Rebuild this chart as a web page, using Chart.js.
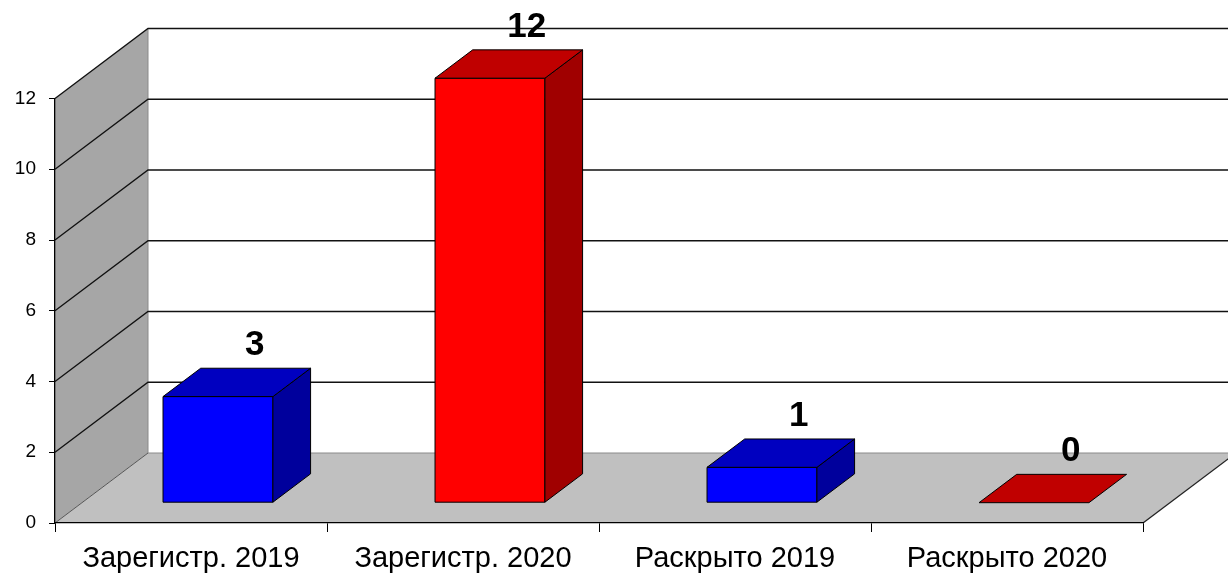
<!DOCTYPE html>
<html>
<head>
<meta charset="utf-8">
<script src="https://cdn.jsdelivr.net/npm/chart.js@4"></script>
<style>
html,body{margin:0;padding:0;background:#fff;}
#wrap{width:1228px;height:576px;}
</style>
</head>
<body>
<div id="wrap"><canvas id="c" width="1228" height="576"></canvas></div>
<script>
const categories = ['Зарегистр. 2019', 'Зарегистр. 2020', 'Раскрыто 2019', 'Раскрыто 2020'];
const values = [3, 12, 1, 0];
const frontColors = ['#0000FF', '#FF0000', '#0000FF', '#FF0000'];
const topColors = ['#0000C0', '#C00000', '#0000C0', '#C00000'];
const sideColors = ['#00009C', '#A00000', '#00009C', '#A00000'];
const yMin = 0, yMax = 12, yStep = 2;

// 3D projection constants (layout, not data)
const DX = 93, DY = 70;       // full depth of floor
const F0 = 0.29, F1 = 0.695;  // bar front/back depth fractions

function poly(ctx, pts, fill, stroke, lw) {
  ctx.beginPath();
  ctx.moveTo(pts[0][0], pts[0][1]);
  for (let i = 1; i < pts.length; i++) ctx.lineTo(pts[i][0], pts[i][1]);
  ctx.closePath();
  if (fill) { ctx.fillStyle = fill; ctx.fill(); }
  if (stroke) { ctx.strokeStyle = stroke; ctx.lineWidth = lw || 1; ctx.stroke(); }
}
function line(ctx, pts, color, lw) {
  ctx.beginPath();
  ctx.moveTo(pts[0][0], pts[0][1]);
  for (let i = 1; i < pts.length; i++) ctx.lineTo(pts[i][0], pts[i][1]);
  ctx.strokeStyle = color; ctx.lineWidth = lw; ctx.stroke();
}

const threeD = {
  id: 'threeD',
  beforeDraw(chart) {
    const ctx = chart.ctx, a = chart.chartArea, y = chart.scales.y;
    ctx.save();
    // side wall
    poly(ctx, [[a.left, a.bottom], [a.left + DX, a.bottom - DY], [a.left + DX, a.top - DY], [a.left, a.top]], '#A6A6A6');
    // floor
    poly(ctx, [[a.left, a.bottom], [a.right, a.bottom], [a.right + DX, a.bottom - DY], [a.left + DX, a.bottom - DY]], '#C0C0C0');
    // wall edge
    line(ctx, [[a.left + DX, a.top - DY], [a.left + DX, a.bottom - DY]], '#8a8a8a', 1);
    // gridlines on side & back walls
    y.ticks.forEach(t => {
      const py = y.getPixelForValue(t.value);
      if (t.value === yMin) {
        line(ctx, [[a.left, py], [a.left + DX, py - DY]], '#555', 1);
        line(ctx, [[a.left + DX, py - DY], [chart.width, py - DY]], '#8a8a8a', 1);
      } else {
        line(ctx, [[a.left, py], [a.left + DX, py - DY], [chart.width, py - DY]], '#111', 1.3);
      }
    });
    // floor right edge
    line(ctx, [[a.right, a.bottom], [a.right + DX, a.bottom - DY]], '#222', 1.3);
    ctx.restore();
  },
  afterDatasetsDraw(chart) {
    const ctx = chart.ctx;
    const meta = chart.getDatasetMeta(0);
    ctx.save();
    ctx.lineJoin = 'round';
    meta.data.forEach((el, i) => {
      const w = el.width;
      const ox = F0 * DX, oy = F0 * DY;
      const dx = (F1 - F0) * DX, dy = (F1 - F0) * DY;
      const l = el.x - w / 2 + ox, r = el.x + w / 2 + ox;
      const t = el.y - oy, b = el.base - oy;
      // front
      if (b - t > 0.5) poly(ctx, [[l, t], [r, t], [r, b], [l, b]], frontColors[i], '#000', 1);
      // side
      if (b - t > 0.5) poly(ctx, [[r, t], [r + dx, t - dy], [r + dx, b - dy], [r, b]], sideColors[i], '#000', 1);
      // top
      poly(ctx, [[l, t], [r, t], [r + dx, t - dy], [l + dx, t - dy]], topColors[i], '#000', 1);
      // value label
      ctx.fillStyle = '#000';
      ctx.font = 'bold 35px "Liberation Sans", Arial, sans-serif';
      ctx.textAlign = 'center';
      ctx.textBaseline = 'alphabetic';
      ctx.fillText(String(values[i]), el.x + ox + dx - 1, t - dy - 13);
    });
    ctx.restore();
  }
};

new Chart(document.getElementById('c'), {
  type: 'bar',
  data: {
    labels: categories,
    datasets: [{
      data: values,
      backgroundColor: 'rgba(0,0,0,0)',
      borderWidth: 0,
      categoryPercentage: 1,
      barPercentage: 0.404
    }]
  },
  options: {
    responsive: false,
    animation: false,
    events: [],
    layout: { padding: { top: 98.5, right: 85, left: 0, bottom: 0 } },
    plugins: { legend: { display: false }, tooltip: { enabled: false }, title: { display: false } },
    scales: {
      x: {
        offset: true,
        grid: { display: true, drawOnChartArea: false, drawTicks: true, tickLength: 9, color: '#000', offset: true },
        border: { display: true, color: '#000', width: 1.3 },
        ticks: { color: '#000', padding: 10, font: { family: '"Liberation Sans", Arial, sans-serif', size: 29 }, maxRotation: 0, autoSkip: false },
        afterFit(s) { s.height = 53; }
      },
      y: {
        min: yMin, max: yMax,
        grid: { display: true, drawOnChartArea: false, drawTicks: true, tickLength: 6, color: '#000' },
        border: { display: true, color: '#000', width: 1.3 },
        ticks: { stepSize: yStep, color: '#000', padding: 13, font: { family: '"Liberation Sans", Arial, sans-serif', size: 19 } },
        afterFit(s) { s.width = 55; }
      }
    }
  },
  plugins: [threeD]
});
</script>
</body>
</html>
